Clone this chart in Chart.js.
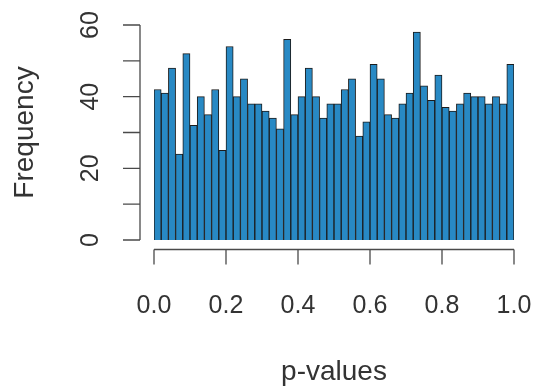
<!DOCTYPE html>
<html>
<head>
<meta charset="utf-8">
<title>Histogram of p-values</title>
<script src="https://cdn.jsdelivr.net/npm/chart.js@4/dist/chart.umd.min.js"></script>
<style>
  html, body { margin: 0; padding: 0; background: #fff; }
  #wrap { width: 536px; height: 387px; position: relative; }
</style>
</head>
<body>
<div id="wrap"><canvas id="histChart"></canvas></div>
<script>
// counts per bin, 50 bins of width 0.02 from 0 to 1
const counts = [42, 41, 48, 24, 52, 32, 40, 35, 42, 25,
                54, 40, 45, 38, 38, 36, 34, 31, 56, 35,
                40, 48, 40, 34, 38, 38, 42, 45, 29, 33,
                49, 45, 35, 34, 38, 41, 58, 43, 39, 46,
                37, 36, 38, 41, 40, 40, 38, 40, 38, 49];
const binWidth = 0.02;
const xTicks = [0, 0.2, 0.4, 0.6, 0.8, 1.0];
const yTicks = [0, 10, 20, 30, 40, 50, 60];
const yLabels = [0, 20, 40, 60];

const barFill = '#2889c4';
const barEdge = '#1c1c1c';
const axisCol = '#4a4a4a';
const fontFam = '"Liberation Sans", Arial, Helvetica, sans-serif';

// bar centres from the bin width
const points = counts.map((c, i) => ({ x: (i + 0.5) * binWidth, y: c }));

// chart.js adds label overflow padding, we want the plot box fixed
function noPad(scale){
  scale.paddingTop = 0; scale.paddingBottom = 0;
  scale.paddingLeft = 0; scale.paddingRight = 0;
}

// R-style axes: detached lines with outward tick marks
const rAxes = {
  id: 'rAxes',
  afterDraw(chart){
    const ctx = chart.ctx;
    const xs = chart.scales.x, ys = chart.scales.y;
    const base = ys.getPixelForValue(0);
    const left = xs.getPixelForValue(0);
    ctx.save();
    ctx.strokeStyle = axisCol;
    ctx.lineWidth = 1.3;
    // x axis
    const ax = base + 9.5;
    ctx.beginPath();
    ctx.moveTo(xs.getPixelForValue(xTicks[0]), ax);
    ctx.lineTo(xs.getPixelForValue(xTicks[xTicks.length - 1]), ax);
    xTicks.forEach(t => {
      const px = xs.getPixelForValue(t);
      ctx.moveTo(px, ax);
      ctx.lineTo(px, ax + 15);
    });
    ctx.stroke();
    // y axis
    const ay = left - 14;
    ctx.beginPath();
    ctx.moveTo(ay, ys.getPixelForValue(yTicks[0]));
    ctx.lineTo(ay, ys.getPixelForValue(yTicks[yTicks.length - 1]));
    yTicks.forEach(t => {
      const py = ys.getPixelForValue(t);
      ctx.moveTo(ay, py);
      ctx.lineTo(ay - 17, py);
    });
    ctx.stroke();
    ctx.restore();
  }
};

new Chart(document.getElementById('histChart'), {
  type: 'bar',
  data: {
    datasets: [{
      label: 'Frequency',
      data: points,
      backgroundColor: barFill,
      borderColor: barEdge,
      borderWidth: 1,
      barPercentage: 1,
      categoryPercentage: 1
    }]
  },
  options: {
    responsive: true,
    maintainAspectRatio: false,
    animation: false,
    layout: { padding: { top: 25, right: 22, bottom: 0, left: 0 } },
    plugins: { legend: { display: false }, tooltip: { enabled: false } },
    scales: {
      x: {
        type: 'linear',
        min: 0, max: 1,
        offset: false,
        afterFit(scale){ scale.height = 147; noPad(scale); },
        afterBuildTicks(scale){ scale.ticks = xTicks.map(v => ({ value: v })); },
        grid: { display: false, drawTicks: false },
        border: { display: false },
        ticks: {
          autoSkip: false, maxRotation: 0, minRotation: 0,
          padding: 51,
          color: '#333',
          font: { family: fontFam, size: 25 },
          callback: v => Number(v).toFixed(1)
        },
        title: {
          display: true, text: 'p-values', color: '#333',
          padding: { top: 0, bottom: 0 },
          font: { family: fontFam, size: 28, lineHeight: 1.05 }
        }
      },
      y: {
        min: 0, max: 60,
        afterFit(scale){ scale.width = 154; noPad(scale); },
        afterBuildTicks(scale){ scale.ticks = yLabels.map(v => ({ value: v })); },
        grid: { display: false, drawTicks: false },
        border: { display: false },
        ticks: {
          autoSkip: false, minRotation: 90, maxRotation: 90,
          crossAlign: 'center',
          padding: 49,
          color: '#333',
          font: { family: fontFam, size: 25 },
          callback: v => String(v)
        },
        title: {
          display: true, text: 'Frequency', color: '#333',
          padding: { top: 10.5, bottom: 0 },
          font: { family: fontFam, size: 28, lineHeight: 1.05 }
        }
      }
    }
  },
  plugins: [rAxes]
});
</script>
</body>
</html>
